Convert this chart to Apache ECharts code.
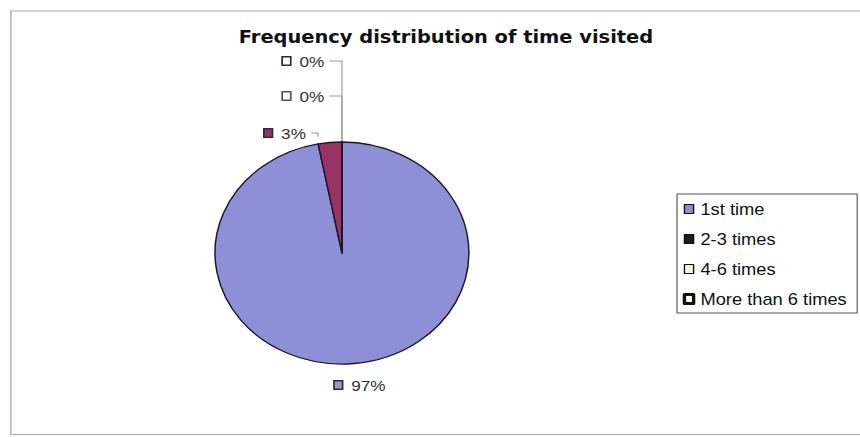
<!DOCTYPE html>
<html>
<head>
<meta charset="utf-8">
<script src="https://cdn.jsdelivr.net/npm/echarts@6/dist/echarts.min.js"></script>
<style>
	html, body { margin: 0; padding: 0; background: #fff; overflow: hidden; }
	#wrap { width: 860px; height: 437px; overflow: hidden; }
	/* the source picture is stretched sideways, so the chart is drawn narrow and widened */
	#main { width: 752px; height: 437px; transform: scaleX(1.1436); transform-origin: 0 0; }
</style>
</head>
<body>
<div id="wrap"><div id="main"></div></div>
<script>
	var categories = ['1st time', '2-3 times', '4-6 times', 'More than 6 times'];
	var percents = [97, 3, 0, 0];
	var colors = ['#8e8fd7', '#993366', '#ffffcc', '#ccffff'];
	var legendKeys = ['#8e8fc8', '#1c1c28', '#f4f6dc', '#ffffff'];
	var labelKeys = ['#9a9ac4', '#993366', '#ffffff', '#ffffff'];

	var chart = echarts.init(document.getElementById('main'), null, { renderer: 'svg' });
	var cx = 299, cy = 253, r = 111;
	var font = 'Liberation Sans, Arial, sans-serif';

	var data = categories.map(function(name, i) {
		return {
			name: name,
			value: percents[i],
			itemStyle: { color: colors[i] },
			label: { formatter: '{k' + i + '|}  ' + percents[i] + '%' }
		};
	});

	var rich = {};
	for (var i = 0; i < 4; i++) {
		rich['k' + i] = {
			width: 6, height: 7,
			backgroundColor: labelKeys[i],
			borderColor: i === 2 ? '#555' : '#2a2a44', borderWidth: 1.5
		};
	}

	var option = {
		backgroundColor: '#fff',
		title: {
			text: 'Frequency distribution of time visited',
			left: 385, top: 23,
			textAlign: 'center',
			textStyle: { fontFamily: 'DejaVu Sans', fontSize: 17, fontWeight: 'bold', color: '#111' }
		},
		graphic: [{
			type: 'polyline',
			shape: { points: [[760, 11], [9.5, 11], [9.5, 434.5], [760, 434.5]] },
			style: { fill: null, stroke: '#aaa', lineWidth: 1.2 },
			silent: true, z: -1
		}],
		legend: {
			orient: 'vertical',
			left: 592, top: 194,
			padding: [7, 9, 6, 5],
			itemGap: 14,
			itemWidth: 8, itemHeight: 9,
			icon: 'rect',
			borderColor: '#555', borderWidth: 1,
			textStyle: { fontFamily: font, fontSize: 16, color: '#111', padding: [0, 0, 0, 1] },
			data: categories.map(function(name, i) {
				return { name: name, itemStyle: { color: legendKeys[i], borderColor: '#111', borderWidth: i === 3 ? 3 : 1.2 } };
			})
		},
		series: [{
			type: 'pie',
			center: [cx, cy],
			radius: r,
			startAngle: 90,
			clockwise: true,
			animation: false,
			avoidLabelOverlap: false,
			itemStyle: { borderColor: '#1a1a2a', borderWidth: 1.3 },
			label: {
				show: true,
				position: 'outside',
				fontFamily: font,
				fontSize: 15,
				color: '#333',
				rich: rich
			},
			labelLine: { show: true, length: 6, length2: 6, lineStyle: { color: '#999', width: 1 } },
			labelLayout: function(params) {
				var i = params.dataIndex;
				var w = params.labelRect.width;
				if (i === 0) {
					return { x: cx + 16, y: cy + r + 21, align: 'center', verticalAlign: 'middle', labelLinePoints: [[cx, cy], [cx, cy], [cx, cy]] };
				}
				var ys = [0, cy - r - 9, cy - r - 46, cy - r - 81];
				var right = [0, cx - 30, cx - 14, cx - 14];
				var pts = i === 1
					? [[right[i] + 3, ys[i]], [right[i] + 9, ys[i]], [right[i] + 9, ys[i] + 4]]
					: [[right[i] + 3, ys[i]], [cx, ys[i]], [cx, cy - r]];
				return { x: right[i] - w, y: ys[i], align: 'left', verticalAlign: 'middle', labelLinePoints: pts };
			},
			data: data
		}]
	};
	chart.setOption(option);
</script>
</body>
</html>
